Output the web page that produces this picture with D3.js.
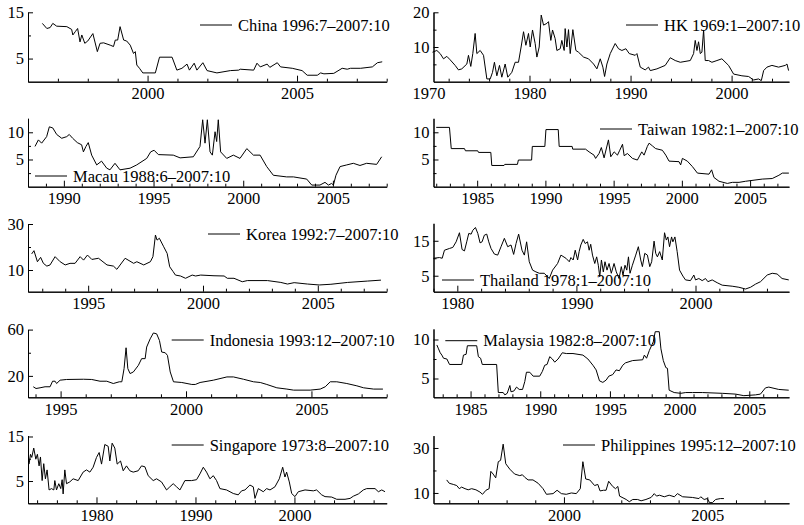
<!DOCTYPE html>
<html>
<head>
<meta charset="utf-8">
<script src="https://cdn.jsdelivr.net/npm/d3@7"></script>
<style>
  body { margin: 0; background: #fff; }
  svg text { font-family: "Liberation Serif", "Times New Roman", serif; font-size: 16.5px; fill: #000; }
</style>
</head>
<body>
<svg id="chart" width="804" height="525"></svg>
<script>
// interest rate series, [year, value] (years as placed against the printed ticks)
const china = [[1996.48,12.6],[1996.63,11.5],[1996.74,11.7],[1996.83,12.6],[1996.96,12.0],[1997.3,11.9],[1997.46,11.3],[1997.5,10.1],[1997.58,10.8],[1997.66,11.5],[1997.74,8.6],[1997.8,10.1],[1997.9,8.3],[1998.0,8.8],[1998.17,10.4],[1998.32,6.5],[1998.41,8.3],[1998.53,8.4],[1998.75,7.9],[1998.86,7.6],[1998.92,9.0],[1999.0,9.0],[1999.08,11.9],[1999.2,9.0],[1999.3,8.8],[1999.42,7.9],[1999.53,6.1],[1999.59,6.5],[1999.64,3.6],[1999.73,2.9],[1999.84,1.9],[2000.26,1.9],[2000.4,5.3],[2000.82,5.3],[2000.98,2.5],[2001.15,2.9],[2001.32,3.8],[2001.4,2.5],[2001.56,4.0],[2001.65,2.5],[2001.85,4.1],[2001.99,2.4],[2002.32,1.9],[2002.77,2.4],[2003.05,2.5],[2003.1,2.7],[2003.55,2.5],[2003.66,4.0],[2003.77,3.2],[2004.0,3.8],[2004.09,3.1],[2004.34,4.1],[2004.45,3.2],[2004.84,2.9],[2005.17,2.4],[2005.34,1.4],[2005.68,1.4],[2005.79,1.9],[2005.9,1.7],[2006.23,1.8],[2006.51,2.9],[2006.68,2.7],[2006.79,2.9],[2007.13,2.9],[2007.52,3.2],[2007.69,4.1],[2007.85,4.3]];

const hk = [[1970.40,8.5],[1970.83,9.0],[1971.16,8.1],[1971.49,6.6],[1971.82,7.3],[1972.15,6.3],[1972.64,4.7],[1972.97,3.4],[1973.30,3.7],[1973.80,5.1],[1973.96,7.6],[1974.19,4.4],[1974.39,8.1],[1974.62,13.9],[1974.79,8.1],[1975.12,9.0],[1975.45,7.6],[1975.78,0.8],[1976.11,0.8],[1976.34,2.7],[1976.53,5.6],[1976.77,1.7],[1977.03,4.7],[1977.26,1.3],[1977.59,5.1],[1977.85,1.3],[1978.25,2.7],[1978.58,5.6],[1978.91,5.6],[1979.17,10.0],[1979.41,14.4],[1979.64,10.5],[1979.90,13.9],[1980.07,10.0],[1980.30,14.9],[1980.56,11.0],[1980.73,7.1],[1980.96,10.0],[1981.16,19.2],[1981.39,16.3],[1981.72,16.8],[1981.88,17.3],[1982.11,11.9],[1982.28,14.9],[1982.54,12.4],[1982.71,9.0],[1983.04,9.5],[1983.20,11.9],[1983.43,9.0],[1983.53,15.3],[1983.70,10.0],[1983.86,15.0],[1984.03,8.1],[1984.29,15.0],[1984.59,9.0],[1984.85,8.5],[1985.35,7.1],[1985.84,6.6],[1986.34,5.1],[1986.67,3.7],[1987.00,6.6],[1987.26,4.2],[1987.43,1.5],[1987.66,5.1],[1987.99,8.1],[1988.48,11.0],[1988.81,9.5],[1989.14,9.0],[1989.54,9.5],[1989.87,8.1],[1990.46,7.6],[1990.63,8.1],[1990.96,4.2],[1991.45,3.4],[1991.78,4.2],[1991.95,3.2],[1992.61,3.7],[1993.43,4.7],[1993.93,6.9],[1994.42,6.1],[1994.92,5.6],[1995.91,6.1],[1996.24,8.1],[1996.40,11.9],[1996.57,9.0],[1996.73,11.5],[1996.90,8.1],[1997.06,8.5],[1997.23,14.9],[1997.39,6.1],[1997.72,6.1],[1998.05,5.6],[1998.55,6.1],[1999.04,6.6],[1999.70,4.7],[2000.20,2.2],[2001.02,1.7],[2001.68,1.5],[2002.18,0.5],[2002.67,0.8],[2002.94,0.3],[2003.17,3.2],[2003.50,4.2],[2003.99,4.7],[2004.65,4.2],[2005.31,4.7],[2005.48,5.1],[2005.64,3.2]];

const macau = [[1988.39,7.4],[1988.58,8.6],[1988.76,8.0],[1989.04,9.2],[1989.19,11.0],[1989.38,10.8],[1989.6,9.6],[1989.88,8.9],[1990.16,9.2],[1990.3,9.6],[1990.49,8.9],[1990.75,8.1],[1990.99,7.7],[1991.09,6.4],[1991.23,7.4],[1991.36,8.1],[1991.55,5.8],[1991.83,4.0],[1992.1,4.7],[1992.39,3.4],[1992.57,3.1],[1992.85,4.3],[1993.13,3.1],[1993.69,3.4],[1994.06,4.0],[1994.62,5.2],[1994.84,6.4],[1995.03,6.7],[1995.27,5.9],[1996.1,5.8],[1996.48,5.3],[1997.22,5.5],[1997.59,7.4],[1997.74,12.3],[1997.87,8.0],[1998.0,12.3],[1998.15,6.4],[1998.28,5.8],[1998.43,10.1],[1998.52,8.3],[1998.61,12.3],[1998.74,6.4],[1999.08,5.2],[1999.45,5.8],[1999.82,5.2],[2000.2,7.0],[2000.57,5.8],[2000.94,5.8],[2001.31,3.7],[2001.68,2.1],[2002.42,1.8],[2002.8,1.8],[2003.54,1.4],[2003.82,0.3],[2004.28,0.3],[2004.56,0.8],[2004.75,0.3],[2004.93,0.6],[2005.03,0.3],[2005.17,2.1],[2005.4,3.7],[2005.77,4.0],[2006.14,4.3],[2006.51,3.9],[2006.88,4.3],[2007.44,4.1],[2007.72,5.5]];

const taiwan = [[1982.0,10.9],[1982.97,10.9],[1983.1,7.0],[1984.07,7.0],[1984.14,6.6],[1985.04,6.6],[1985.1,6.3],[1986.0,6.3],[1986.07,3.9],[1986.97,3.9],[1987.02,4.1],[1987.95,4.1],[1988.02,4.9],[1988.99,4.9],[1989.04,7.4],[1989.96,7.4],[1990.04,10.5],[1990.94,10.5],[1991.01,7.4],[1991.96,7.4],[1992.0,6.9],[1992.94,6.9],[1993.2,6.4],[1993.56,5.8],[1993.68,5.2],[1993.93,6.1],[1994.1,7.2],[1994.3,5.3],[1994.62,8.6],[1994.79,5.5],[1995.04,6.4],[1995.28,5.8],[1995.45,6.7],[1995.65,7.8],[1995.77,5.7],[1996.01,6.1],[1996.38,5.2],[1996.74,4.9],[1997.06,6.4],[1997.23,5.8],[1997.47,7.4],[1997.6,8.0],[1997.84,7.5],[1998.08,7.0],[1998.57,6.7],[1998.82,5.8],[1999.06,4.7],[1999.79,4.6],[1999.91,4.0],[2000.04,5.2],[2000.4,4.7],[2000.77,3.7],[2001.14,2.5],[2001.99,2.3],[2002.18,3.1],[2002.35,1.7],[2002.72,1.0],[2003.33,0.6],[2003.7,0.8],[2004.19,0.8],[2004.67,1.0],[2005.89,1.4],[2006.62,1.5],[2007.11,2.1],[2007.36,2.5],[2007.84,2.5]];

const korea = [[1992.54,17.0],[1992.64,18.4],[1992.79,13.6],[1992.93,15.5],[1993.05,12.9],[1993.2,11.7],[1993.34,12.2],[1993.56,15.8],[1993.78,13.6],[1994.0,12.2],[1994.21,12.9],[1994.43,12.9],[1994.65,15.8],[1994.8,14.3],[1994.97,16.5],[1995.16,14.6],[1995.45,15.1],[1995.82,12.2],[1996.1,11.7],[1996.25,10.3],[1996.61,15.1],[1996.98,12.9],[1997.12,13.6],[1997.42,12.2],[1997.71,13.6],[1997.82,15.8],[1997.93,25.2],[1998.0,23.0],[1998.1,23.8],[1998.29,20.1],[1998.44,17.2],[1998.55,11.4],[1998.7,9.3],[1998.8,7.8],[1999.02,7.4],[1999.24,6.4],[1999.53,7.8],[1999.68,7.4],[1999.9,7.8],[2000.48,7.5],[2000.92,7.4],[2001.06,6.4],[2001.35,6.4],[2001.71,4.9],[2001.93,5.4],[2002.81,5.4],[2003.39,4.6],[2003.68,3.9],[2003.97,4.5],[2004.55,3.9],[2005.06,3.5],[2005.57,3.8],[2006.3,4.6],[2007.17,5.2],[2007.75,5.6]];

const thailand = [[1978.0,10.0],[1978.5,10.2],[1978.73,10.0],[1978.92,12.3],[1979.34,12.8],[1979.62,13.1],[1979.9,14.7],[1980.18,17.3],[1980.4,12.5],[1980.6,12.1],[1980.79,14.7],[1980.96,17.1],[1981.16,16.9],[1981.3,18.0],[1981.52,18.8],[1981.72,17.1],[1981.91,14.4],[1982.08,14.7],[1982.27,16.6],[1982.47,16.9],[1982.64,14.7],[1982.83,12.8],[1983.11,11.2],[1983.39,10.9],[1983.67,13.3],[1983.95,15.7],[1984.23,13.3],[1984.51,13.8],[1984.73,11.1],[1984.93,14.2],[1985.15,16.9],[1985.43,12.3],[1985.63,10.9],[1985.82,14.7],[1986.04,9.0],[1986.32,6.6],[1986.6,6.1],[1986.88,5.7],[1987.3,5.7],[1987.72,4.2],[1988.0,6.6],[1988.42,8.5],[1988.7,10.9],[1989.12,10.0],[1989.4,9.0],[1989.54,10.2],[1989.73,9.5],[1989.9,12.3],[1990.1,9.5],[1990.23,11.9],[1990.37,13.8],[1990.57,15.4],[1990.74,14.2],[1990.93,14.7],[1991.07,12.3],[1991.2,14.0],[1991.35,10.9],[1991.54,8.5],[1991.7,10.4],[1991.84,8.0],[1991.96,4.7],[1992.1,9.5],[1992.26,6.1],[1992.4,9.0],[1992.57,6.6],[1992.74,8.5],[1992.93,5.7],[1993.16,8.5],[1993.35,6.1],[1993.58,4.2],[1993.77,7.6],[1993.91,5.2],[1994.08,8.0],[1994.23,6.6],[1994.37,10.4],[1994.5,5.7],[1994.7,8.0],[1994.98,10.9],[1995.2,13.3],[1995.4,9.5],[1995.54,7.6],[1995.74,11.4],[1995.96,10.9],[1996.16,7.6],[1996.32,9.0],[1996.52,14.9],[1996.66,11.4],[1996.8,10.4],[1996.99,11.9],[1997.21,9.5],[1997.4,17.3],[1997.55,15.2],[1997.68,16.1],[1997.82,13.3],[1997.99,16.1],[1998.1,14.7],[1998.27,16.1],[1998.46,11.9],[1998.66,6.6],[1998.94,4.9],[1999.16,3.8],[1999.58,3.6],[1999.86,5.2],[2000.0,3.8],[2000.28,4.2],[2000.56,3.6],[2000.84,4.2],[2001.04,3.3],[2001.4,3.8],[2001.82,3.0],[2002.24,2.3],[2003.08,2.0],[2003.64,1.7],[2004.2,1.2],[2004.62,1.7],[2005.04,2.6],[2005.46,3.3],[2006.02,5.2],[2006.44,5.7],[2006.85,5.5],[2007.27,4.2],[2007.83,3.8]];

const indonesia = [[1993.91,10.6],[1994.02,9.1],[1994.18,9.7],[1994.38,10.6],[1994.58,10.6],[1994.68,15.4],[1994.78,15.4],[1994.84,13.4],[1994.98,16.3],[1995.24,16.9],[1995.91,17.1],[1996.24,16.9],[1996.57,15.4],[1996.84,15.4],[1997.1,13.4],[1997.34,14.9],[1997.44,14.9],[1997.53,26.3],[1997.61,44.3],[1997.68,26.3],[1997.77,22.0],[1997.9,23.4],[1998.1,29.1],[1998.23,34.9],[1998.37,34.9],[1998.43,44.9],[1998.57,52.0],[1998.7,57.1],[1998.83,56.3],[1998.94,50.6],[1999.03,40.6],[1999.17,40.0],[1999.26,37.7],[1999.37,23.4],[1999.5,14.9],[1999.83,14.3],[2000.23,12.6],[2000.37,12.6],[2000.56,14.3],[2001.09,16.3],[2001.63,19.1],[2001.89,19.1],[2002.29,17.1],[2002.69,14.9],[2002.96,14.3],[2003.22,12.6],[2003.62,9.7],[2004.02,8.6],[2004.29,7.7],[2004.95,7.7],[2005.35,8.6],[2005.55,10.6],[2005.75,14.9],[2006.01,14.9],[2006.41,13.4],[2006.81,11.4],[2007.08,9.7],[2007.48,8.6],[2007.85,8.6]];

const malaysia = [[1982.58,9.3],[1982.7,8.8],[1982.82,8.3],[1982.94,8.0],[1983.06,7.6],[1983.3,7.5],[1983.49,6.8],[1984.37,6.8],[1984.49,8.0],[1984.68,8.1],[1984.77,9.2],[1985.44,9.2],[1985.56,7.8],[1985.72,7.6],[1985.84,6.8],[1986.87,6.8],[1986.99,3.2],[1987.34,3.2],[1987.46,2.9],[1987.63,3.1],[1987.82,4.1],[1987.9,3.3],[1988.11,3.4],[1988.3,3.9],[1988.49,3.6],[1988.73,3.6],[1988.89,4.6],[1989.01,5.8],[1989.25,5.8],[1989.49,5.3],[1989.96,5.3],[1990.15,5.9],[1990.32,6.7],[1990.49,6.8],[1990.68,7.8],[1990.87,7.5],[1991.04,7.1],[1991.28,7.5],[1991.58,8.3],[1991.87,8.2],[1992.35,8.2],[1993.06,8.0],[1993.42,7.5],[1993.78,6.7],[1994.01,6.1],[1994.25,4.7],[1994.49,4.5],[1994.73,4.8],[1994.92,5.3],[1995.2,5.5],[1995.44,6.1],[1995.68,6.0],[1995.92,6.7],[1996.11,7.0],[1996.63,7.3],[1997.35,7.4],[1997.47,8.0],[1997.63,7.6],[1997.83,8.6],[1998.11,9.7],[1998.25,11.0],[1998.54,11.0],[1998.66,8.8],[1998.83,7.3],[1999.01,6.4],[1999.13,6.3],[1999.25,3.5],[1999.61,3.2],[2000.08,3.1],[2000.44,3.2],[2000.92,3.2],[2001.63,3.2],[2003.06,3.1],[2004.01,3.0],[2004.61,2.8],[2005.44,2.9],[2005.8,3.0],[2006.16,3.8],[2006.4,3.9],[2007.11,3.6],[2007.83,3.5]];

const singapore = [[1973.19,8.8],[1973.33,11.0],[1973.46,10.3],[1973.66,12.4],[1973.87,9.9],[1974.03,11.0],[1974.20,8.4],[1974.34,10.4],[1974.51,5.1],[1974.67,8.9],[1974.84,5.5],[1975.01,7.5],[1975.21,3.0],[1975.45,3.3],[1975.69,3.0],[1975.79,5.1],[1975.96,3.0],[1976.19,4.4],[1976.39,3.3],[1976.53,5.3],[1976.63,2.1],[1976.80,7.5],[1976.97,4.4],[1977.30,4.8],[1977.64,5.5],[1978.15,5.1],[1978.65,7.0],[1978.99,7.5],[1979.33,7.0],[1979.66,8.1],[1980.00,10.3],[1980.27,11.4],[1980.51,8.8],[1980.84,13.2],[1981.18,12.8],[1981.35,9.5],[1981.58,13.5],[1981.85,12.4],[1982.09,8.8],[1982.43,9.5],[1982.70,7.3],[1983.03,8.4],[1983.37,7.3],[1983.71,7.0],[1984.21,7.3],[1984.55,8.4],[1984.89,8.2],[1985.22,6.2],[1985.73,5.1],[1986.07,5.5],[1986.57,4.8],[1987.08,3.0],[1987.41,3.7],[1987.75,4.4],[1988.09,3.7],[1988.43,3.0],[1988.93,5.1],[1989.61,5.1],[1990.11,5.3],[1990.45,6.6],[1990.79,8.1],[1991.12,7.0],[1991.46,5.5],[1991.80,6.2],[1992.13,5.1],[1992.47,3.3],[1993.14,3.0],[1993.82,2.2],[1994.32,1.9],[1994.66,2.8],[1995.00,3.0],[1995.50,4.1],[1995.84,3.7],[1996.01,1.1],[1996.35,3.3],[1996.85,2.6],[1997.19,3.3],[1997.53,3.0],[1998.03,3.7],[1998.47,5.5],[1998.81,8.1],[1999.04,5.9],[1999.21,7.0],[1999.48,4.8],[1999.72,2.2],[2000.05,1.5],[2000.39,2.6],[2001.07,3.0],[2001.91,2.8],[2002.24,3.0],[2002.75,1.9],[2003.09,1.5],[2003.76,1.4],[2004.27,0.9],[2005.11,0.9],[2005.62,1.1],[2005.95,1.6],[2006.46,2.1],[2006.96,3.0],[2007.30,3.3],[2008.14,3.3],[2008.48,2.6],[2008.82,3.0],[2009.15,2.6]];

const philippines = [[1995.91,15.8],[1996.0,14.3],[1996.14,13.8],[1996.26,13.3],[1996.35,11.9],[1996.43,12.6],[1996.55,11.9],[1996.66,11.4],[1996.78,11.9],[1996.93,11.4],[1997.07,10.4],[1997.16,9.4],[1997.28,11.2],[1997.39,11.9],[1997.45,19.6],[1997.53,18.4],[1997.62,16.7],[1997.71,23.9],[1997.79,24.5],[1997.88,31.7],[1997.97,23.0],[1998.11,20.6],[1998.28,18.4],[1998.46,17.7],[1998.55,18.1],[1998.63,17.0],[1998.75,15.8],[1998.92,15.8],[1999.1,14.3],[1999.27,11.9],[1999.39,9.4],[1999.62,9.7],[1999.76,11.2],[1999.91,9.7],[2000.08,9.4],[2000.26,10.0],[2000.43,9.7],[2000.57,11.9],[2000.66,23.9],[2000.76,16.2],[2000.9,15.8],[2001.07,13.3],[2001.18,13.8],[2001.26,10.9],[2001.38,11.2],[2001.47,11.2],[2001.56,15.2],[2001.7,12.9],[2001.8,11.9],[2001.88,12.9],[2001.94,8.6],[2002.17,7.1],[2002.28,6.1],[2002.4,7.1],[2002.57,7.1],[2002.69,6.5],[2002.86,7.1],[2003.04,8.0],[2003.15,9.7],[2003.23,8.6],[2003.33,9.0],[2003.5,8.3],[2003.67,9.0],[2003.85,8.3],[2003.96,9.7],[2004.14,8.3],[2004.48,8.0],[2004.71,7.5],[2004.77,8.3],[2004.89,7.1],[2005.0,7.5],[2005.08,5.7],[2005.18,5.7],[2005.29,7.1],[2005.46,7.5],[2005.58,7.5]];

// labels and tick values
const names = ["China 1996:7\u20132007:10", "HK 1969:1\u20132007:10", "Macau 1988:6\u20132007:10", "Taiwan 1982:1\u20132007:10",
  "Korea 1992:7\u20132007:10", "Thailand 1978:1\u20132007:10", "Indonesia 1993:12\u20132007:10", "Malaysia 1982:8\u20132007:10",
  "Singapore 1973:8\u20132007:10", "Philippines 1995:12\u20132007:10"];
const series = [china, hk, macau, taiwan, korea, thailand, indonesia, malaysia, singapore, philippines];
const xDomains = [[1996,2008],[1970.5,2005.68],[1988,2008],[1981.8,2007.85],[1992.38,2008],[1978,2007.85],[1993.7,2008],[1982.34,2007.85],[1973.08,2009.32],[1995.45,2007.85]];
const yDomains = [[0,15],[0,20],[0,12.57],[0,12.57],[0.57,30],[0.43,20],[1.5,60],[2.59,11.36],[0,15.2],[5.4,35.5]];
const xLabelTicks = [[2000,2005],[1970,1980,1990,2000],[1990,1995,2000,2005],[1985,1990,1995,2000,2005],[1995,2000,2005],[1980,1990,2000],[1995,2000,2005],[1985,1990,1995,2000,2005],[1980,1990,2000],[2000,2005]];
const xMinorStep = [1,2,1,1,1,2,1,1,2,1];
const yLabelTicks = [[5,15],[10,20],[5,10],[5,10],[10,30],[5,15],[20,60],[5,10],[5,15],[10,30]];
const yMinorTicks = [[10],[5,15],[2.5,7.5],[2.5,7.5],[20],[10],[40],[7.5],[10],[20]];

// layout
const colX = [[28, 386.7], [433.5, 789]];
const rowBottom = [81.7, 186.7, 291.7, 397.3, 503.3];
const topOffset = [12.3, 12.3, 13.3, 13.3, 14, 13.3, 14, 13.3, 14, 14];
const legendPos = [[200,25],[626,25],[35,176],[600,129],[208,234],[442,280],[171.7,340],[445.3,340.7],[171.7,445],[563,445]];

const svg = d3.select('svg#chart');

series.forEach((data, i) => {
    const col = i % 2, row = Math.floor(i / 2);
    const bottom = rowBottom[row];
    const top = bottom - 81.7 + topOffset[i];
    const x = d3.scaleLinear().domain(xDomains[i]).range(colX[col]);
    const y = d3.scaleLinear().domain(yDomains[i]).range([bottom, top]);
    const g = svg.append('g');

    // x axis: labelled ticks and minor ticks
    const [x0, x1] = xDomains[i];
    const minor = d3.range(Math.ceil(x0 / xMinorStep[i]) * xMinorStep[i], x1 + 0.001, xMinorStep[i])
        .filter(v => !xLabelTicks[i].includes(v));
    g.append('g').attr('transform', 'translate(0,' + bottom + ')')
        .call(d3.axisBottom(x).tickValues(minor).tickSize(-3).tickSizeOuter(0).tickFormat(''));
    const xa = g.append('g').attr('transform', 'translate(0,' + bottom + ')')
        .call(d3.axisBottom(x).tickValues(xLabelTicks[i]).tickSize(-6).tickSizeOuter(0).tickPadding(6).tickFormat(d3.format('d')));
    // a label that falls left of the axis keeps its text but not its tick mark
    xa.selectAll('.tick').filter(d => d < x0).select('line').remove();

    // y axis
    const ax = colX[col][0];
    g.append('g').attr('transform', 'translate(' + ax + ',0)')
        .call(d3.axisLeft(y).tickValues(yMinorTicks[i]).tickSize(-3).tickSizeOuter(0).tickFormat(''));
    g.append('g').attr('transform', 'translate(' + ax + ',0)')
        .call(d3.axisLeft(y).tickValues(yLabelTicks[i]).tickSize(-5).tickSizeOuter(0).tickPadding(4).tickFormat(d3.format('d')));

    g.selectAll('.domain, .tick line').attr('stroke', '#000').attr('stroke-width', 1);

    // series line
    g.append('path')
        .datum(data)
        .attr('d', d3.line().x(d => x(d[0])).y(d => y(d[1])))
        .attr('fill', 'none')
        .attr('stroke', '#000')
        .attr('stroke-width', 1);

    // legend
    const [lx, ly] = legendPos[i];
    g.append('line')
        .attr('x1', lx).attr('x2', lx + 32)
        .attr('y1', ly).attr('y2', ly)
        .attr('stroke', '#000');
    g.append('text')
        .attr('x', lx + 38).attr('y', ly + 5.5)
        .text(names[i]);
});
</script>
</body>
</html>
